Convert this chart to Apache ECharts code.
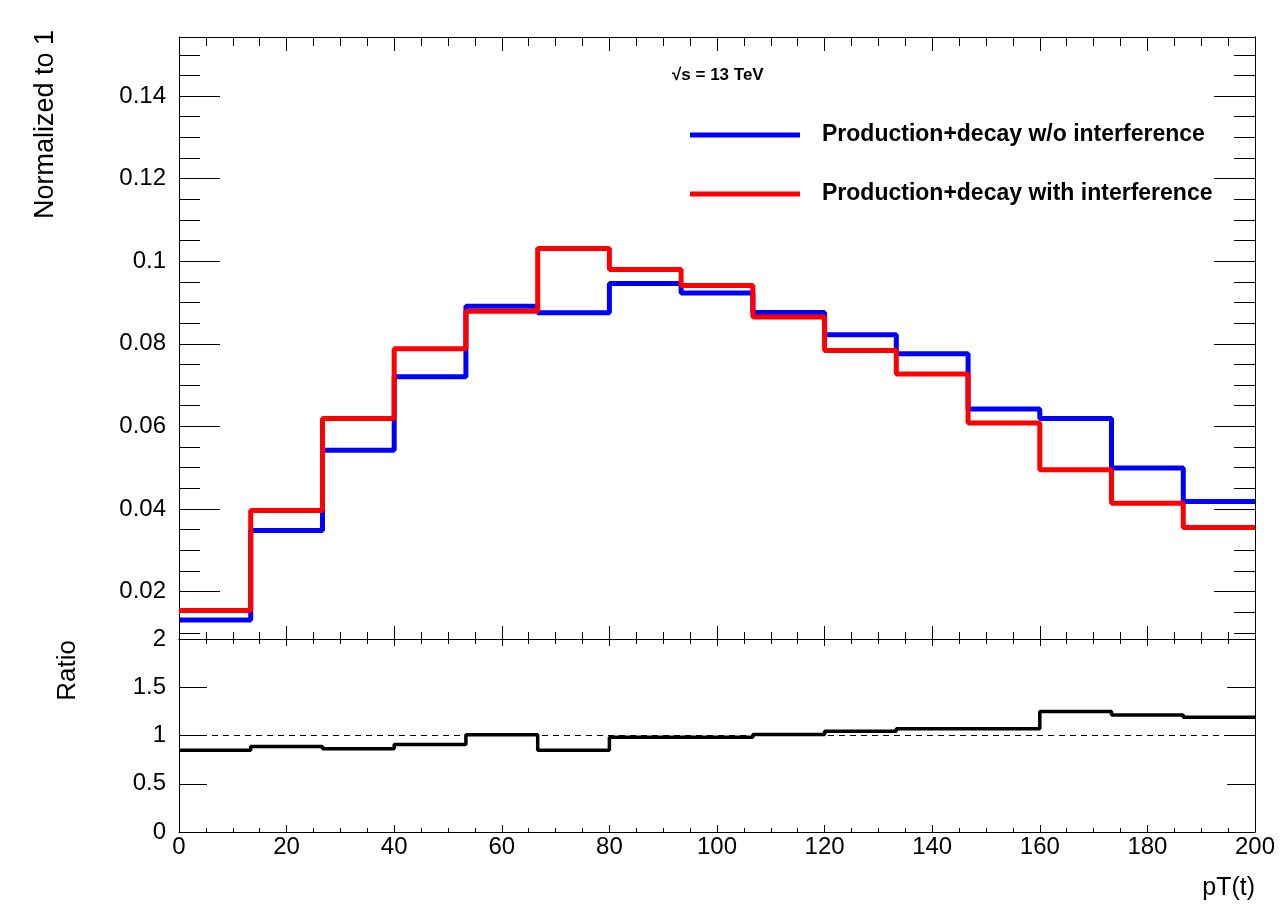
<!DOCTYPE html>
<html>
<head>
<meta charset="utf-8">
<script src="https://cdn.jsdelivr.net/npm/echarts@6/dist/echarts.min.js"></script>
<style>
  html, body { margin: 0; padding: 0; background: #fff; }
  #main { width: 1280px; height: 910px; }
</style>
</head>
<body>
<div id="main"></div>
<script>
// bin edges of pT(t)
let binEdges = [0, 13.33, 26.67, 40, 53.33, 66.67, 80, 93.33, 106.67, 120, 133.33, 146.67, 160, 173.33, 186.67, 200];
let noInterference = [0.0131, 0.0348, 0.0542, 0.0720, 0.0891, 0.0875, 0.0946, 0.0923, 0.0876, 0.0822, 0.0776, 0.0642, 0.0619, 0.0499, 0.0418];
let withInterference = [0.0154, 0.0396, 0.0619, 0.0788, 0.0879, 0.1031, 0.0980, 0.0941, 0.0865, 0.0784, 0.0727, 0.0608, 0.0495, 0.0414, 0.0355];
let ratioValues = [0.848, 0.886, 0.863, 0.907, 1.007, 0.848, 0.983, 0.983, 1.01, 1.045, 1.07, 1.07, 1.25, 1.213, 1.19];

let seriesNames = ["Production+decay w/o interference", "Production+decay with interference"];
let yMajorTicks = [0.02, 0.04, 0.06, 0.08, 0.10, 0.12, 0.14];
let yMinorTicks = [0.01, 0.015, 0.025, 0.03, 0.035, 0.045, 0.05, 0.055, 0.065, 0.07, 0.075, 0.085, 0.09, 0.095, 0.105, 0.11, 0.115, 0.125, 0.13, 0.135, 0.145, 0.15];

const FONT = "Liberation Sans, Arial, sans-serif";

// histogram outline: each bin gives a flat segment from its low edge to its high edge
function toSteps(values) {
    let pts = [];
    for (let i = 0; i < values.length; i = i + 1) {
        pts.push([binEdges[i], values[i]]);
        pts.push([binEdges[i + 1], values[i]]);
    }
    return pts;
}

function xAxisDef(grid, pos, showLabel, tickLen, minorLen) {
    return {
        type: "value", gridIndex: grid, position: pos, min: 0, max: 200, interval: 20,
        axisLine: { show: true, onZero: false, lineStyle: { color: "#000", width: 1 } },
        axisTick: { show: true, inside: true, length: tickLen, lineStyle: { color: "#000", width: 1 } },
        minorTick: { show: true, splitNumber: 4, length: minorLen, lineStyle: { color: "#000", width: 1 } },
        axisLabel: { show: showLabel, color: "#000", fontFamily: FONT, fontSize: 24, margin: 3 },
        splitLine: { show: false }
    };
}

function topYAxis(pos, ticks, tickLen, showLabel) {
    return {
        type: "value", gridIndex: 0, position: pos, min: 0.0085, max: 0.1543,
        axisLine: { show: true, onZero: false, lineStyle: { color: "#000", width: 1 } },
        axisTick: { show: true, inside: true, length: tickLen, customValues: ticks, lineStyle: { color: "#000", width: 1 } },
        axisLabel: { show: showLabel, customValues: ticks, color: "#000", fontFamily: FONT, fontSize: 24, margin: 13 },
        splitLine: { show: false }
    };
}

function ratioYAxis(pos, showLabel) {
    return {
        type: "value", gridIndex: 1, position: pos, min: 0, max: 2, interval: 0.5,
        axisLine: { show: true, onZero: false, lineStyle: { color: "#000", width: 1 } },
        axisTick: { show: true, inside: true, length: 28, lineStyle: { color: "#000", width: 1 } },
        axisLabel: { show: showLabel, color: "#000", fontFamily: FONT, fontSize: 24, margin: 13 },
        splitLine: { show: false }
    };
}

let myChart = echarts.init(document.getElementById("main"));

let option = {
    animation: false,
    backgroundColor: "#fff",
    grid: [
        { left: 179, top: 37, width: 1076, height: 602 },
        { left: 179, top: 639, width: 1076, height: 193 }
    ],
    legend: {
        orient: "vertical",
        left: 690,
        top: 123,
        padding: 0,
        itemWidth: 110,
        itemHeight: 5,
        itemGap: 35,
        icon: "rect",
        data: seriesNames,
        textStyle: {
            color: "#000", fontFamily: FONT, fontWeight: "bold", fontSize: 23,
            lineHeight: 24, padding: [0, 0, 0, 17]
        }
    },
    xAxis: [
        xAxisDef(0, "bottom", false, 13, 7),
        xAxisDef(0, "top", false, 14, 9),
        xAxisDef(1, "bottom", true, 7, 4),
        xAxisDef(1, "top", false, 7, 5)
    ],
    yAxis: [
        topYAxis("left", yMajorTicks, 41, true),
        topYAxis("left", yMinorTicks, 21, false),
        ratioYAxis("left", true),
        topYAxis("right", yMajorTicks, 41, false),
        topYAxis("right", yMinorTicks, 21, false),
        ratioYAxis("right", false)
    ],
    graphic: [
        {
            type: "text", x: 46, y: 30, rotation: Math.PI / 2,
            style: { text: "Normalized to 1", fill: "#000", font: "27px " + FONT, align: "right", verticalAlign: "middle" }
        },
        {
            type: "text", x: 68, y: 640, rotation: Math.PI / 2,
            style: { text: "Ratio", fill: "#000", font: "26px " + FONT, align: "right", verticalAlign: "middle" }
        },
        {
            type: "text", x: 1255, y: 888,
            style: { text: "pT(t)", fill: "#000", font: "25px " + FONT, align: "right", verticalAlign: "middle" }
        },
        {
            type: "text", x: 672, y: 75,
            style: { text: "√s = 13 TeV", fill: "#000", font: "bold 17px " + FONT, align: "left", verticalAlign: "middle" }
        }
    ],
    series: [
        {
            name: seriesNames[0], type: "line", symbol: "none",
            xAxisIndex: 0, yAxisIndex: 0,
            data: toSteps(noInterference),
            itemStyle: { color: "#0000ff" },
            lineStyle: { color: "#0000ff", width: 5 }
        },
        {
            name: seriesNames[1], type: "line", symbol: "none",
            xAxisIndex: 0, yAxisIndex: 0,
            data: toSteps(withInterference),
            itemStyle: { color: "#ff0000" },
            lineStyle: { color: "#ff0000", width: 5 }
        },
        {
            name: "Ratio", type: "line", symbol: "none",
            xAxisIndex: 2, yAxisIndex: 2,
            data: toSteps(ratioValues),
            lineStyle: { color: "#000", width: 3.5 },
            markLine: {
                silent: true, symbol: "none", label: { show: false },
                lineStyle: { color: "#000", width: 1, type: [6, 5] },
                data: [[{ coord: [0, 1] }, { coord: [200, 1] }]]
            }
        }
    ]
};

myChart.setOption(option);
</script>
</body>
</html>
